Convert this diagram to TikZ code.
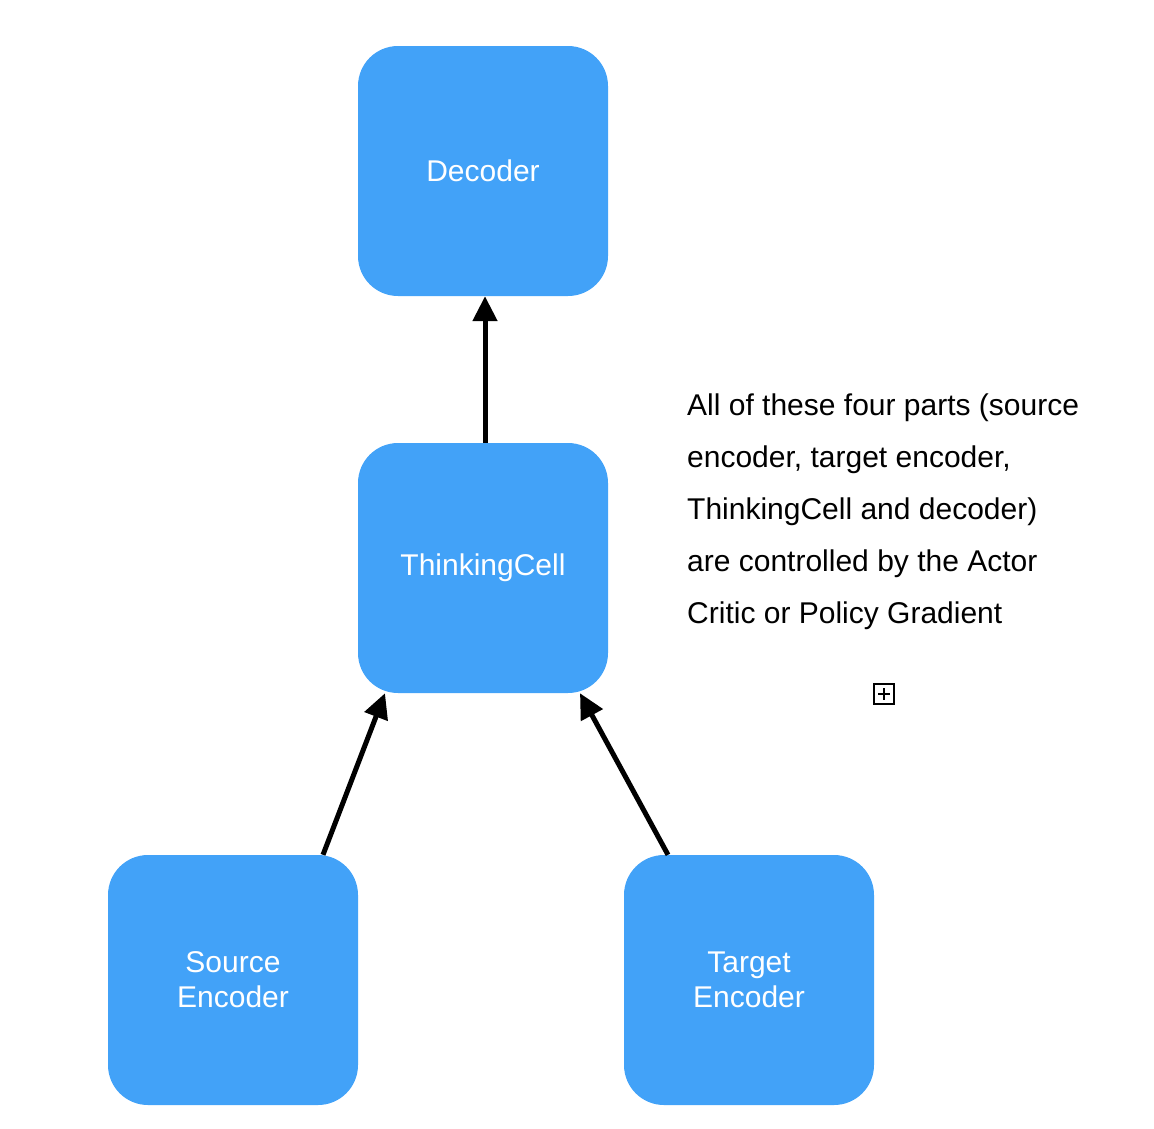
\documentclass[tikz,border=0pt]{standalone}
\usepackage{fontspec}
\setmainfont{Liberation Sans}
\usetikzlibrary{arrows.meta}
\definecolor{boxblue}{HTML}{42A2F8}
\begin{document}
\begin{tikzpicture}[x=1pt,y=-1pt,
  block/.style={fill=boxblue, rounded corners=40pt, minimum width=250pt, minimum height=250pt,
    inner sep=0pt, text=white, font=\fontsize{30}{35}\selectfont, align=center},
  link/.style={line width=5pt, -{Triangle[length=25pt,width=24pt]}},
  note/.style={anchor=north west, inner sep=0pt, align=left, font=\fontsize{30}{52}\selectfont}]
\useasboundingbox (0,0) rectangle (1154,1128);
\node[block] (dec) at (483,171) {Decoder};
\node[block] (tc) at (483,568) {ThinkingCell};
\node[block] (src) at (233,980) {Source\\Encoder};
\node[block] (tgt) at (749,980) {Target\\Encoder};
\draw[link] ([xshift=2pt]tc.north) -- ([xshift=2pt]dec.south);
\draw[link] ([xshift=90pt]src.north) -- ([xshift=-98pt]tc.south);
\draw[link] ([xshift=-81pt]tgt.north) -- ([xshift=97pt]tc.south);
\node[note] (txt) at (687,394) {All of these four parts (source\\encoder, target encoder,\\ThinkingCell and decoder)\\are controlled by the Actor\\Critic or Policy Gradient};
\node[draw, line width=2pt, minimum size=20pt, inner sep=0pt] (plus) at (884,693.5) {};
\draw[line width=2pt] ([xshift=-6pt]plus.center) -- ([xshift=6pt]plus.center);
\draw[line width=2pt] ([yshift=-6pt]plus.center) -- ([yshift=6pt]plus.center);
\end{tikzpicture}
\end{document}
